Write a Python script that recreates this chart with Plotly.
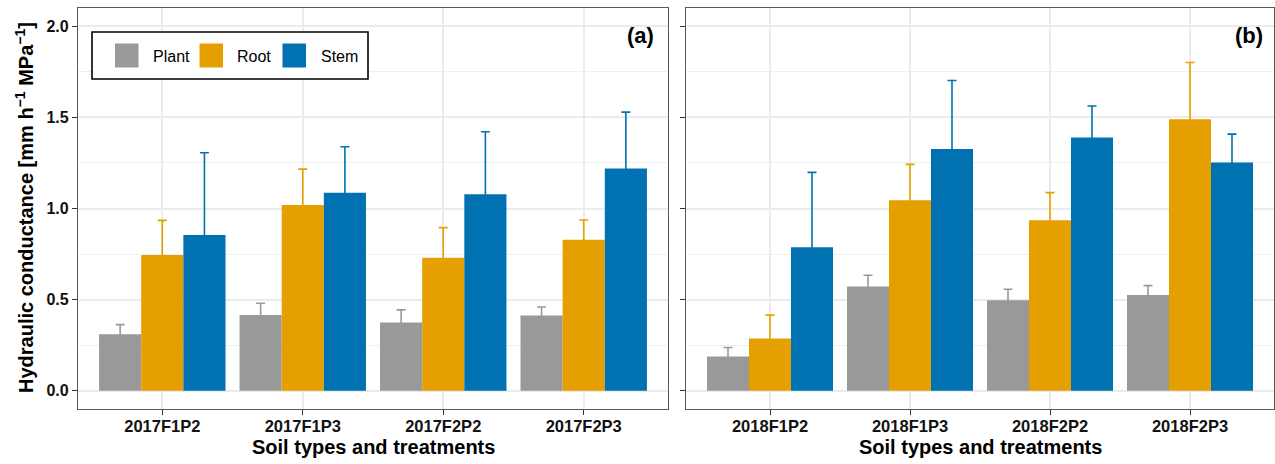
import plotly.graph_objects as go

# Treatments per year
cats_2017 = ["2017F1P2", "2017F1P3", "2017F2P2", "2017F2P3"]
cats_2018 = ["2018F1P2", "2018F1P3", "2018F2P2", "2018F2P3"]

series = ["Plant", "Root", "Stem"]
colors = ["#999999", "#E69F00", "#0072B2"]

# Mean hydraulic conductance and standard error, panel (a) 2017
plant_2017 = [0.310, 0.416, 0.374, 0.413]
root_2017 = [0.745, 1.019, 0.730, 0.829]
stem_2017 = [0.855, 1.087, 1.078, 1.220]
plant_2017_se = [0.053, 0.064, 0.070, 0.047]
root_2017_se = [0.190, 0.197, 0.165, 0.108]
stem_2017_se = [0.451, 0.252, 0.343, 0.309]

# Panel (b) 2018
plant_2018 = [0.188, 0.572, 0.497, 0.526]
root_2018 = [0.287, 1.045, 0.935, 1.490]
stem_2018 = [0.787, 1.326, 1.390, 1.253]
plant_2018_se = [0.049, 0.062, 0.060, 0.051]
root_2018_se = [0.128, 0.197, 0.152, 0.311]
stem_2018_se = [0.411, 0.376, 0.172, 0.155]

y_ticks = [0.0, 0.5, 1.0, 1.5, 2.0]
y_ticktext = ["0.0", "0.5", "1.0", "1.5", "2.0"]

W, H = 1275, 464
FONT = "Liberation Sans, Arial, sans-serif"


def px_x(p):
    return p / W


def px_y(p):
    return 1 - p / H


fig = go.Figure()

panels = [
    (cats_2017, [plant_2017, root_2017, stem_2017],
     [plant_2017_se, root_2017_se, stem_2017_se], "x", "y"),
    (cats_2018, [plant_2018, root_2018, stem_2018],
     [plant_2018_se, root_2018_se, stem_2018_se], "x2", "y2"),
]

# The lower half of each error bar falls inside its own bar in the same colour,
# so only the upper whisker (mean + se) shows.
for cats, means, ses, xa, ya in panels:
    for name, col, m, se in zip(series, colors, means, ses):
        fig.add_trace(go.Bar(
            x=cats, y=m, name=name, xaxis=xa, yaxis=ya,
            marker=dict(color=col, line=dict(width=0)),
            error_y=dict(type="data", array=se, symmetric=True,
                         color=col, thickness=1.6, width=4.5),
            showlegend=False,
        ))

grid = "#EBEBEB"
frame = "#595959"
ydom = [px_y(409), px_y(8)]

common_x = dict(type="category", range=[-0.6, 3.6],
                showgrid=True, gridcolor=grid, gridwidth=1.6,
                showline=True, linecolor=frame, linewidth=1.2, mirror=True,
                ticks="outside", ticklen=5, tickcolor="#333333", tickwidth=1,
                ticklabelstandoff=-3,
                tickfont=dict(family=FONT, size=16.5, color="#111111", weight="bold"),
                zeroline=False, automargin=False, fixedrange=True)
common_y = dict(range=[-0.1, 2.1], tickvals=y_ticks, ticktext=y_ticktext,
                showgrid=True, gridcolor=grid, gridwidth=1.6,
                minor=dict(dtick=0.25, tick0=0, showgrid=True, gridcolor="#EFEFEF", gridwidth=1),
                showline=True, linecolor=frame, linewidth=1.2, mirror=True,
                ticks="outside", ticklen=5, tickcolor="#333333", tickwidth=1,
                tickfont=dict(family=FONT, size=16, color="#111111", weight="bold"),
                zeroline=False, automargin=False, fixedrange=True)

fig.update_layout(
    width=W, height=H,
    margin=dict(l=0, r=0, t=0, b=0),
    paper_bgcolor="white", plot_bgcolor="white",
    barmode="group", bargap=0.1, bargroupgap=0,
    font=dict(family=FONT),
    xaxis=dict(domain=[px_x(78), px_x(668)], anchor="y", **common_x),
    xaxis2=dict(domain=[px_x(686), px_x(1274)], anchor="y2", **common_x),
    yaxis=dict(domain=ydom, anchor="x", **common_y),
    yaxis2=dict(domain=ydom, anchor="x2", showticklabels=False, **common_y),
)

annotations = [
    dict(text="Soil types and treatments", x=px_x(373), y=px_y(447),
         font=dict(size=20, weight="bold", color="black")),
    dict(text="Soil types and treatments", x=px_x(980), y=px_y(447),
         font=dict(size=20, weight="bold", color="black")),
    dict(text="Hydraulic conductance [mm h<sup>−1</sup> MPa<sup>−1</sup>]",
         x=px_x(24), y=px_y(208), textangle=-90,
         font=dict(size=20, weight="bold", color="black")),
    dict(text="(a)", x=px_x(656), y=px_y(36), xanchor="right",
         font=dict(size=22, weight="bold", color="black")),
    dict(text="(b)", x=px_x(1265), y=px_y(36), xanchor="right",
         font=dict(size=22, weight="bold", color="black")),
]
for a in annotations:
    a.update(xref="paper", yref="paper", showarrow=False)
    a.setdefault("xanchor", "center")
    a["yanchor"] = "middle"
    a["font"]["family"] = FONT

# Legend box with keys for the three organ series
shapes = [dict(type="rect", xref="paper", yref="paper",
               x0=px_x(92), x1=px_x(368), y0=px_y(79), y1=px_y(32),
               line=dict(color="black", width=1.6), fillcolor="white", layer="above")]
key_left = [115, 199.5, 282.5]
text_left = [150.5, 235.5, 318.5]
for name, col, kx, tx in zip(series, colors, key_left, text_left):
    shapes.append(dict(type="rect", xref="paper", yref="paper",
                       x0=px_x(kx), x1=px_x(kx + 23.5), y0=px_y(67.5), y1=px_y(43.5),
                       line=dict(width=0), fillcolor=col, layer="above"))
    annotations.append(dict(text=name, xref="paper", yref="paper", showarrow=False,
                            x=px_x(tx), y=px_y(56), xanchor="left", yanchor="middle",
                            font=dict(family=FONT, size=16, color="black")))

fig.update_layout(annotations=annotations, shapes=shapes)

fig.write_html("out.html")
